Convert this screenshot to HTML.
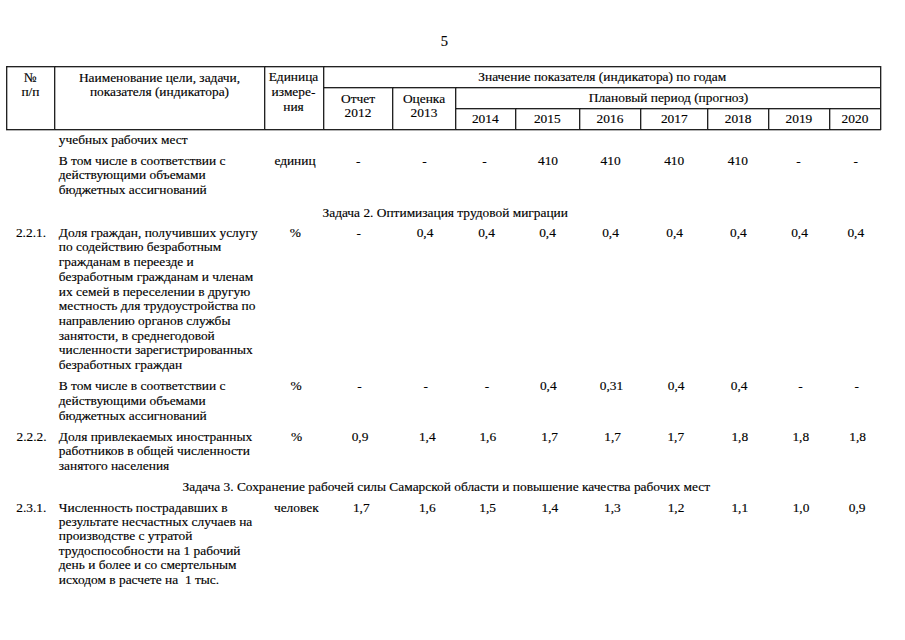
<!DOCTYPE html>
<html><head><meta charset="utf-8"><style>
html,body{margin:0;padding:0;background:#fff;}
body{width:905px;height:640px;position:relative;overflow:hidden;}
.t{position:absolute;white-space:pre;font-family:"Liberation Serif",serif;font-size:13.4px;line-height:15px;color:#000;-webkit-text-stroke:0.15px #000;}
.c{width:600px;text-align:center;}
.ln{position:absolute;background:#222;}
.h{box-shadow:0 1px 0 rgba(0,0,0,0.3);}
.v{box-shadow:1px 0 0 rgba(0,0,0,0.3);}
</style></head><body>
<div class="ln h" style="left:6.0px;top:66.0px;width:875.0px;height:1px"></div>
<div class="ln h" style="left:6.0px;top:129.0px;width:875.0px;height:1px"></div>
<div class="ln h" style="left:323.0px;top:87.0px;width:558.0px;height:1px"></div>
<div class="ln h" style="left:455.0px;top:108.0px;width:426.0px;height:1px"></div>
<div class="ln v" style="left:6.0px;top:66.0px;width:1px;height:64.0px"></div>
<div class="ln v" style="left:54.0px;top:66.0px;width:1px;height:64.0px"></div>
<div class="ln v" style="left:264.0px;top:66.0px;width:1px;height:64.0px"></div>
<div class="ln v" style="left:323.0px;top:66.0px;width:1px;height:64.0px"></div>
<div class="ln v" style="left:880.0px;top:66.0px;width:1px;height:64.0px"></div>
<div class="ln v" style="left:392.0px;top:87.0px;width:1px;height:43.0px"></div>
<div class="ln v" style="left:455.0px;top:87.0px;width:1px;height:43.0px"></div>
<div class="ln v" style="left:515.0px;top:108.0px;width:1px;height:22.0px"></div>
<div class="ln v" style="left:579.0px;top:108.0px;width:1px;height:22.0px"></div>
<div class="ln v" style="left:640.0px;top:108.0px;width:1px;height:22.0px"></div>
<div class="ln v" style="left:707.0px;top:108.0px;width:1px;height:22.0px"></div>
<div class="ln v" style="left:768.0px;top:108.0px;width:1px;height:22.0px"></div>
<div class="ln v" style="left:829.0px;top:108.0px;width:1px;height:22.0px"></div>
<div class="t c" style="left:144.3px;top:34.0px;font-size:14.5px">5</div>
<div class="t c" style="left:-269.6px;top:70.0px">№</div>
<div class="t c" style="left:-269.6px;top:84.0px">п/п</div>
<div class="t c" style="left:-140.5px;top:70.0px">Наименование цели, задачи,</div>
<div class="t c" style="left:-140.5px;top:84.0px">показателя (индикатора)</div>
<div class="t c" style="left:-6.5px;top:69.0px">Единица</div>
<div class="t c" style="left:-6.5px;top:84.2px">измере-</div>
<div class="t c" style="left:-6.5px;top:98.8px">ния</div>
<div class="t c" style="left:302.3px;top:69.0px">Значение показателя (индикатора) по годам</div>
<div class="t c" style="left:368.5px;top:90.0px">Плановый период (прогноз)</div>
<div class="t c" style="left:58.0px;top:90.8px">Отчет</div>
<div class="t c" style="left:58.0px;top:104.8px">2012</div>
<div class="t c" style="left:124.0px;top:90.8px">Оценка</div>
<div class="t c" style="left:124.0px;top:104.8px">2013</div>
<div class="t c" style="left:185.3px;top:111.0px">2014</div>
<div class="t c" style="left:247.3px;top:111.0px">2015</div>
<div class="t c" style="left:310.0px;top:111.0px">2016</div>
<div class="t c" style="left:374.3px;top:111.0px">2017</div>
<div class="t c" style="left:438.1px;top:111.0px">2018</div>
<div class="t c" style="left:498.9px;top:111.0px">2019</div>
<div class="t c" style="left:555.0px;top:111.0px">2020</div>
<div class="t" style="left:58.8px;top:132.2px">учебных рабочих мест</div>
<div class="t" style="left:58.8px;top:152.5px">В том числе в соответствии с</div>
<div class="t" style="left:58.8px;top:167.3px">действующими объемами</div>
<div class="t" style="left:58.8px;top:182.1px">бюджетных ассигнований</div>
<div class="t c" style="left:-5.0px;top:152.5px">единиц</div>
<div class="t c" style="left:58.3px;top:152.5px">-</div>
<div class="t c" style="left:124.4px;top:152.5px">-</div>
<div class="t c" style="left:184.5px;top:152.5px">-</div>
<div class="t c" style="left:248.0px;top:152.5px">410</div>
<div class="t c" style="left:310.6px;top:152.5px">410</div>
<div class="t c" style="left:374.2px;top:152.5px">410</div>
<div class="t c" style="left:437.9px;top:152.5px">410</div>
<div class="t c" style="left:498.5px;top:152.5px">-</div>
<div class="t c" style="left:555.8px;top:152.5px">-</div>
<div class="t" style="left:322.5px;top:204.6px">Задача 2. Оптимизация трудовой миграции</div>
<div class="t" style="left:15.9px;top:224.7px">2.2.1.</div>
<div class="t" style="left:58.8px;top:224.7px">Доля граждан, получивших услугу</div>
<div class="t" style="left:58.8px;top:239.4px">по содействию безработным</div>
<div class="t" style="left:58.8px;top:254.1px">гражданам в переезде и</div>
<div class="t" style="left:58.8px;top:268.8px">безработным гражданам и членам</div>
<div class="t" style="left:58.8px;top:283.5px">их семей в переселении в другую</div>
<div class="t" style="left:58.8px;top:298.2px">местность для трудоустройства по</div>
<div class="t" style="left:58.8px;top:312.9px">направлению органов службы</div>
<div class="t" style="left:58.8px;top:327.6px">занятости, в среднегодовой</div>
<div class="t" style="left:58.8px;top:342.3px">численности зарегистрированных</div>
<div class="t" style="left:58.8px;top:357.0px">безработных граждан</div>
<div class="t c" style="left:-4.8px;top:224.7px">%</div>
<div class="t c" style="left:58.8px;top:224.7px">-</div>
<div class="t c" style="left:125.0px;top:224.7px">0,4</div>
<div class="t c" style="left:186.5px;top:224.7px">0,4</div>
<div class="t c" style="left:247.5px;top:224.7px">0,4</div>
<div class="t c" style="left:310.5px;top:224.7px">0,4</div>
<div class="t c" style="left:374.6px;top:224.7px">0,4</div>
<div class="t c" style="left:438.4px;top:224.7px">0,4</div>
<div class="t c" style="left:499.5px;top:224.7px">0,4</div>
<div class="t c" style="left:555.8px;top:224.7px">0,4</div>
<div class="t" style="left:58.8px;top:378.4px">В том числе в соответствии с</div>
<div class="t" style="left:58.8px;top:393.0px">действующими объемами</div>
<div class="t" style="left:58.8px;top:407.6px">бюджетных ассигнований</div>
<div class="t c" style="left:-3.9px;top:378.4px">%</div>
<div class="t c" style="left:59.4px;top:378.4px">-</div>
<div class="t c" style="left:125.7px;top:378.4px">-</div>
<div class="t c" style="left:187.0px;top:378.4px">-</div>
<div class="t c" style="left:248.3px;top:378.4px">0,4</div>
<div class="t c" style="left:311.5px;top:378.4px">0,31</div>
<div class="t c" style="left:376.1px;top:378.4px">0,4</div>
<div class="t c" style="left:439.1px;top:378.4px">0,4</div>
<div class="t c" style="left:500.4px;top:378.4px">-</div>
<div class="t c" style="left:556.8px;top:378.4px">-</div>
<div class="t" style="left:16.5px;top:428.6px">2.2.2.</div>
<div class="t" style="left:58.8px;top:428.6px">Доля привлекаемых иностранных</div>
<div class="t" style="left:58.8px;top:443.2px">работников в общей численности</div>
<div class="t" style="left:58.8px;top:457.8px">занятого населения</div>
<div class="t c" style="left:-3.5px;top:428.6px">%</div>
<div class="t c" style="left:60.0px;top:428.6px">0,9</div>
<div class="t c" style="left:127.3px;top:428.6px">1,4</div>
<div class="t c" style="left:187.8px;top:428.6px">1,6</div>
<div class="t c" style="left:249.6px;top:428.6px">1,7</div>
<div class="t c" style="left:312.6px;top:428.6px">1,7</div>
<div class="t c" style="left:375.8px;top:428.6px">1,7</div>
<div class="t c" style="left:439.8px;top:428.6px">1,8</div>
<div class="t c" style="left:500.8px;top:428.6px">1,8</div>
<div class="t c" style="left:557.6px;top:428.6px">1,8</div>
<div class="t" style="left:182.6px;top:478.5px">Задача 3. Сохранение рабочей силы Самарской области и повышение качества рабочих мест</div>
<div class="t" style="left:16.2px;top:499.5px">2.3.1.</div>
<div class="t" style="left:58.8px;top:499.5px">Численность пострадавших в</div>
<div class="t" style="left:58.8px;top:514.0px">результате несчастных случаев на</div>
<div class="t" style="left:58.8px;top:528.4px">производстве с утратой</div>
<div class="t" style="left:58.8px;top:542.9px">трудоспособности на 1 рабочий</div>
<div class="t" style="left:58.8px;top:557.3px">день и более и со смертельным</div>
<div class="t" style="left:58.8px;top:571.8px">исходом в расчете на&nbsp; 1 тыс.</div>
<div class="t c" style="left:-3.7px;top:499.5px">человек</div>
<div class="t c" style="left:61.3px;top:499.5px">1,7</div>
<div class="t c" style="left:127.3px;top:499.5px">1,6</div>
<div class="t c" style="left:187.7px;top:499.5px">1,5</div>
<div class="t c" style="left:249.9px;top:499.5px">1,4</div>
<div class="t c" style="left:312.4px;top:499.5px">1,3</div>
<div class="t c" style="left:376.0px;top:499.5px">1,2</div>
<div class="t c" style="left:439.8px;top:499.5px">1,1</div>
<div class="t c" style="left:501.0px;top:499.5px">1,0</div>
<div class="t c" style="left:557.2px;top:499.5px">0,9</div>
</body></html>
